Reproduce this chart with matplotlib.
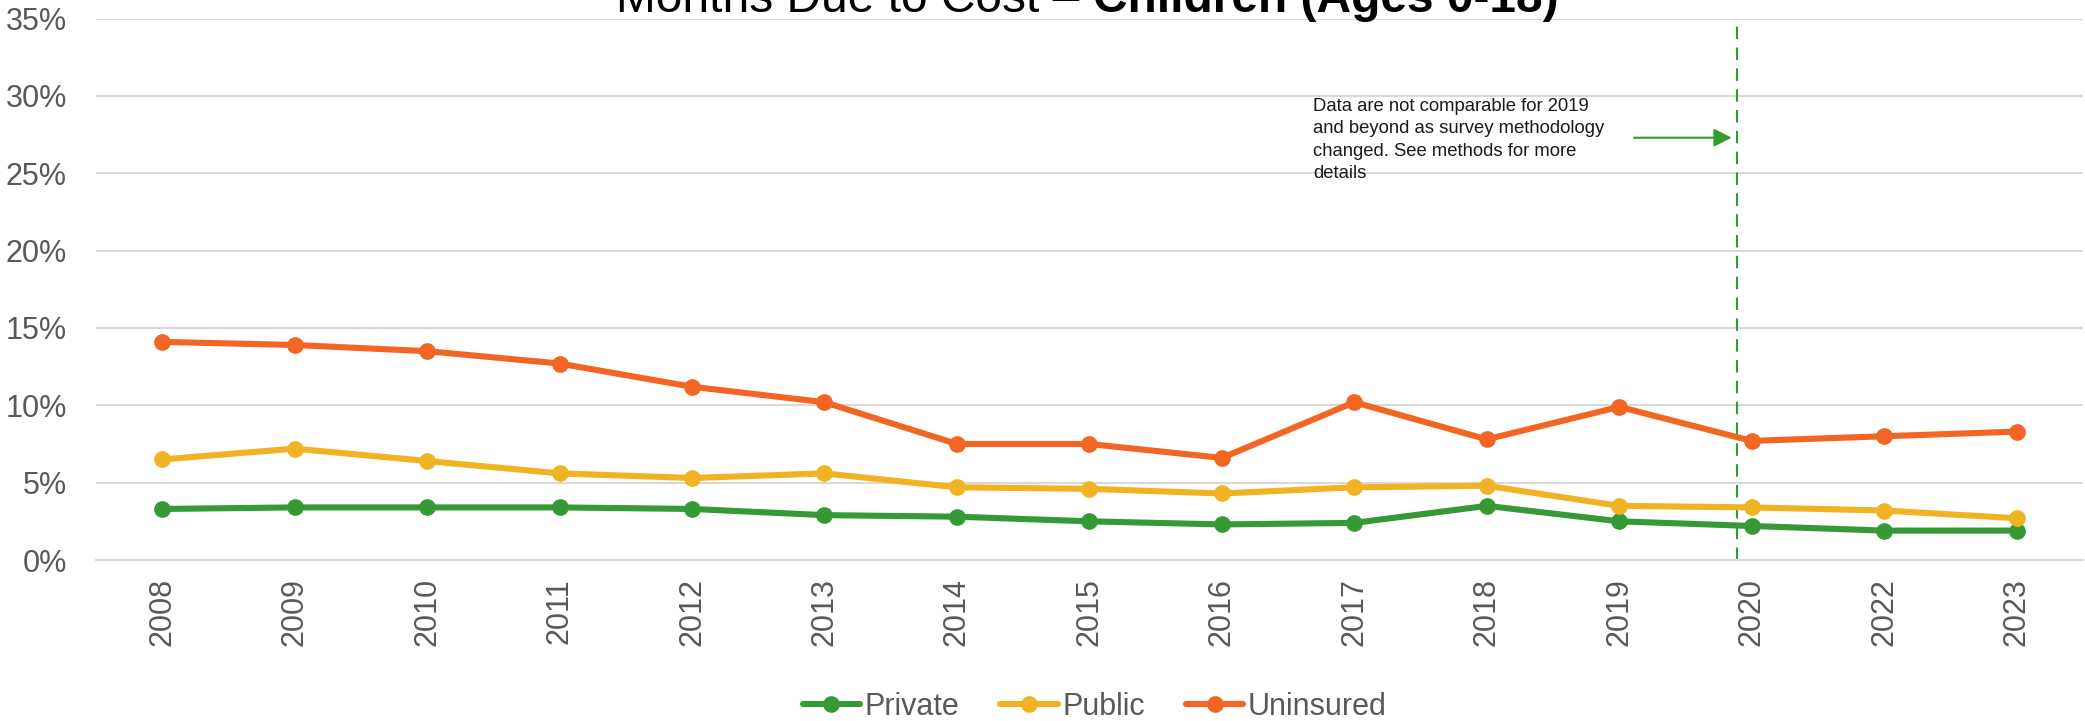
import numpy as np
import matplotlib
matplotlib.use('Agg')
import matplotlib.pyplot as plt

plt.rcParams['font.family'] = ['Liberation Sans', 'DejaVu Sans']

# data (percent)
years = ['2008', '2009', '2010', '2011', '2012', '2013', '2014', '2015',
         '2016', '2017', '2018', '2019', '2020', '2022', '2023']
private = [3.3, 3.4, 3.4, 3.4, 3.3, 2.9, 2.8, 2.5, 2.3, 2.4, 3.5, 2.5, 2.2, 1.9, 1.9]
public = [6.5, 7.2, 6.4, 5.6, 5.3, 5.6, 4.7, 4.6, 4.3, 4.7, 4.8, 3.5, 3.4, 3.2, 2.7]
uninsured = [14.1, 13.9, 13.5, 12.7, 11.2, 10.2, 7.5, 7.5, 6.6, 10.2, 7.8, 9.9, 7.7, 8.0, 8.3]

series_names = ['Private', 'Public', 'Uninsured']
colors = ['#359a35', '#f0b323', '#f26522']
grey = '#595959'

fig = plt.figure(figsize=(20.85, 7.21), dpi=100)
ax = fig.add_axes([0.046, 0.2233, 0.953, 0.7509])

x = np.arange(len(years))
for vals, name, c in zip([private, public, uninsured], series_names, colors):
	ax.plot(x, vals, color=c, lw=4.4, marker='o', ms=11, label=name,
	        solid_capstyle='round', zorder=3)

ax.set_xlim(-0.5, len(years) - 0.5)
ax.set_ylim(0, 35)
ax.set_yticks(np.arange(0, 36, 5))
ax.set_yticklabels([str(v) + '%' for v in range(0, 36, 5)])
ax.set_xticks(x)
ax.set_xticklabels(years, rotation=90)
ax.tick_params(axis='y', length=0, pad=21, labelsize=22, labelcolor=grey)
ax.tick_params(axis='x', length=0, pad=13, labelsize=22, labelcolor=grey)

ax.grid(axis='y', color='#d9d9d9', lw=1.5, zorder=0)
ax.set_axisbelow(True)
for s in ['top', 'right', 'left']:
	ax.spines[s].set_visible(False)
ax.spines['bottom'].set_color('#d9d9d9')
ax.spines['bottom'].set_linewidth(1.5)

# methodology change marker
ax.axvline(11.89, color='#2e9e2e', lw=1.5, ls=(0, (6, 4)), zorder=2)
ax.annotate('', xy=(11.87, 27.3), xytext=(11.09, 27.3),
            arrowprops=dict(arrowstyle='-|>,head_length=0.6,head_width=0.3',
                            mutation_scale=18, color='#2e9e2e', lw=1.5))
ax.text(8.69, 29.85, 'Data are not comparable for 2019\nand beyond as survey methodology\n'
        'changed. See methods for more\ndetails',
        fontsize=13.3, va='top', ha='left', color='#1a1a1a', linespacing=1.4)

# title, cut off at the top edge
fig.text(0.524, 0.983, 'Months Due to Cost \u2013 ', fontsize=34.5, ha='right', va='baseline')
fig.text(0.524, 0.983, 'Children (Ages 0-18)', fontsize=34.5, ha='left', va='baseline',
         fontweight='bold')

leg = fig.legend(loc='center', bbox_to_anchor=(0.525, 0.02), ncol=3, frameon=False,
                 fontsize=22, handlelength=1.87, handletextpad=0.15, columnspacing=1.35)
for t in leg.get_texts():
	t.set_color(grey)

fig.savefig('out.png', dpi=100)
